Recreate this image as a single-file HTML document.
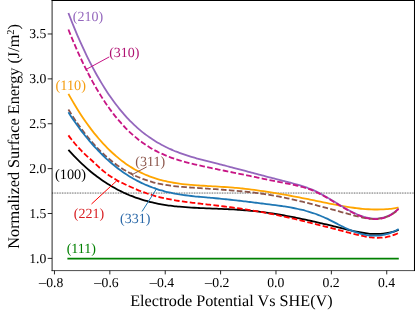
<!DOCTYPE html>
<html><head><meta charset="utf-8"><title>chart</title>
<style>svg{will-change:transform}svg text{text-rendering:geometricPrecision}html,body{margin:0;padding:0;background:#fff;}body{width:415px;height:311px;overflow:hidden;position:relative;font-family:"Liberation Serif",serif;}</style></head>
<body>
<svg width="415" height="311" viewBox="0 0 415 311" style="position:absolute;left:0;top:0">
<rect width="415" height="311" fill="#fff"/>
<path d="M67.4 258.66 H398.8" stroke="#008000" stroke-width="1.6" fill="none"/>
<path d="M52.10 193.05 H414.50" stroke="#333" stroke-width="0.9" stroke-dasharray="0.85 0.8" fill="none"/>
<path d="M68.40 149.92 C68.90 150.47 70.40 152.15 71.40 153.23 C72.40 154.31 73.40 155.36 74.40 156.40 C75.40 157.44 76.40 158.46 77.40 159.45 C78.40 160.45 79.40 161.43 80.40 162.39 C81.40 163.34 82.40 164.28 83.40 165.20 C84.40 166.12 85.40 167.01 86.40 167.89 C87.40 168.77 88.40 169.63 89.40 170.48 C90.40 171.32 91.40 172.14 92.40 172.95 C93.40 173.75 94.40 174.54 95.40 175.31 C96.40 176.08 97.40 176.83 98.40 177.56 C99.40 178.30 100.40 179.01 101.40 179.71 C102.40 180.41 103.40 181.09 104.40 181.76 C105.40 182.42 106.40 183.07 107.40 183.70 C108.40 184.34 109.40 184.95 110.40 185.55 C111.40 186.15 112.40 186.74 113.40 187.31 C114.40 187.88 115.40 188.43 116.40 188.97 C117.40 189.50 118.40 190.03 119.40 190.54 C120.40 191.04 121.40 191.54 122.40 192.02 C123.40 192.50 124.40 192.96 125.40 193.41 C126.40 193.86 127.40 194.30 128.40 194.72 C129.40 195.15 130.40 195.56 131.40 195.95 C132.40 196.35 133.40 196.73 134.40 197.10 C135.40 197.48 136.40 197.83 137.40 198.18 C138.40 198.52 139.40 198.86 140.40 199.18 C141.40 199.50 142.40 199.81 143.40 200.11 C144.40 200.40 145.40 200.69 146.40 200.96 C147.40 201.24 148.40 201.50 149.40 201.76 C150.40 202.01 151.40 202.25 152.40 202.48 C153.40 202.71 154.40 202.94 155.40 203.15 C156.40 203.36 157.40 203.56 158.40 203.76 C159.40 203.95 160.40 204.14 161.40 204.31 C162.40 204.49 163.40 204.66 164.40 204.82 C165.40 204.98 166.40 205.13 167.40 205.27 C168.40 205.42 169.40 205.55 170.40 205.68 C171.40 205.81 172.40 205.94 173.40 206.05 C174.40 206.17 175.40 206.28 176.40 206.38 C177.40 206.49 178.40 206.59 179.40 206.68 C180.40 206.77 181.40 206.86 182.40 206.95 C183.40 207.03 184.40 207.11 185.40 207.18 C186.40 207.26 187.40 207.33 188.40 207.39 C189.40 207.46 190.40 207.52 191.40 207.58 C192.40 207.64 193.40 207.70 194.40 207.75 C195.40 207.81 196.40 207.86 197.40 207.91 C198.40 207.96 199.40 208.00 200.40 208.05 C201.40 208.10 202.40 208.14 203.40 208.18 C204.40 208.23 205.40 208.27 206.40 208.31 C207.40 208.35 208.40 208.39 209.40 208.43 C210.40 208.47 211.40 208.51 212.40 208.54 C213.40 208.58 214.40 208.62 215.40 208.66 C216.40 208.70 217.40 208.74 218.40 208.78 C219.40 208.82 220.40 208.86 221.40 208.90 C222.40 208.94 223.40 208.98 224.40 209.03 C225.40 209.07 226.40 209.12 227.40 209.16 C228.40 209.21 229.40 209.26 230.40 209.31 C231.40 209.36 232.40 209.41 233.40 209.47 C234.40 209.52 235.40 209.58 236.40 209.64 C237.40 209.71 238.40 209.77 239.40 209.84 C240.40 209.90 241.40 209.97 242.40 210.05 C243.40 210.12 244.40 210.20 245.40 210.28 C246.40 210.37 247.40 210.45 248.40 210.54 C249.40 210.63 250.40 210.73 251.40 210.83 C252.40 210.93 253.40 211.03 254.40 211.14 C255.40 211.25 256.40 211.36 257.40 211.48 C258.40 211.59 259.40 211.71 260.40 211.84 C261.40 211.96 262.40 212.09 263.40 212.22 C264.40 212.35 265.40 212.49 266.40 212.63 C267.40 212.77 268.40 212.91 269.40 213.06 C270.40 213.21 271.40 213.36 272.40 213.51 C273.40 213.66 274.40 213.82 275.40 213.98 C276.40 214.14 277.40 214.31 278.40 214.47 C279.40 214.64 280.40 214.81 281.40 214.98 C282.40 215.16 283.40 215.33 284.40 215.51 C285.40 215.69 286.40 215.88 287.40 216.06 C288.40 216.25 289.40 216.44 290.40 216.63 C291.40 216.82 292.40 217.01 293.40 217.21 C294.40 217.40 295.40 217.60 296.40 217.81 C297.40 218.01 298.40 218.21 299.40 218.42 C300.40 218.62 301.40 218.83 302.40 219.04 C303.40 219.26 304.40 219.47 305.40 219.68 C306.40 219.90 307.40 220.12 308.40 220.34 C309.40 220.56 310.40 220.78 311.40 221.00 C312.40 221.23 313.40 221.45 314.40 221.68 C315.40 221.91 316.40 222.14 317.40 222.37 C318.40 222.60 319.40 222.83 320.40 223.06 C321.40 223.30 322.40 223.53 323.40 223.77 C324.40 224.01 325.40 224.24 326.40 224.48 C327.40 224.72 328.40 224.96 329.40 225.21 C330.40 225.45 331.40 225.69 332.40 225.94 C333.40 226.18 334.40 226.43 335.40 226.67 C336.40 226.92 337.40 227.17 338.40 227.41 C339.40 227.66 340.40 227.91 341.40 228.16 C342.40 228.41 343.40 228.66 344.40 228.90 C345.40 229.15 346.40 229.40 347.40 229.64 C348.40 229.88 349.40 230.12 350.40 230.35 C351.40 230.58 352.40 230.80 353.40 231.02 C354.40 231.24 355.40 231.45 356.40 231.65 C357.40 231.85 358.40 232.05 359.40 232.23 C360.40 232.41 361.40 232.58 362.40 232.74 C363.40 232.90 364.40 233.05 365.40 233.18 C366.40 233.31 367.40 233.43 368.40 233.53 C369.40 233.63 370.40 233.71 371.40 233.78 C372.40 233.84 373.40 233.89 374.40 233.92 C375.40 233.95 376.40 233.96 377.40 233.95 C378.40 233.94 379.40 233.91 380.40 233.85 C381.40 233.79 382.40 233.72 383.40 233.61 C384.40 233.51 385.40 233.38 386.40 233.23 C387.40 233.08 388.40 232.90 389.40 232.69 C390.40 232.49 391.40 232.25 392.40 231.99 C393.40 231.73 394.37 231.45 395.40 231.11 C396.43 230.77 398.07 230.16 398.60 229.97" stroke="#000000" stroke-width="1.8" fill="none" stroke-linejoin="round"/>
<path d="M68.40 93.84 C68.90 94.72 70.40 97.42 71.40 99.16 C72.40 100.90 73.40 102.61 74.40 104.28 C75.40 105.95 76.40 107.59 77.40 109.20 C78.40 110.80 79.40 112.38 80.40 113.92 C81.40 115.46 82.40 116.96 83.40 118.44 C84.40 119.91 85.40 121.36 86.40 122.77 C87.40 124.18 88.40 125.56 89.40 126.91 C90.40 128.27 91.40 129.59 92.40 130.88 C93.40 132.17 94.40 133.43 95.40 134.66 C96.40 135.89 97.40 137.09 98.40 138.26 C99.40 139.43 100.40 140.58 101.40 141.69 C102.40 142.81 103.40 143.90 104.40 144.96 C105.40 146.02 106.40 147.05 107.40 148.06 C108.40 149.06 109.40 150.04 110.40 150.99 C111.40 151.95 112.40 152.87 113.40 153.78 C114.40 154.68 115.40 155.55 116.40 156.40 C117.40 157.25 118.40 158.08 119.40 158.88 C120.40 159.68 121.40 160.46 122.40 161.21 C123.40 161.97 124.40 162.70 125.40 163.40 C126.40 164.11 127.40 164.79 128.40 165.46 C129.40 166.12 130.40 166.76 131.40 167.37 C132.40 167.99 133.40 168.59 134.40 169.16 C135.40 169.74 136.40 170.29 137.40 170.83 C138.40 171.36 139.40 171.87 140.40 172.37 C141.40 172.86 142.40 173.34 143.40 173.79 C144.40 174.25 145.40 174.69 146.40 175.11 C147.40 175.53 148.40 175.93 149.40 176.31 C150.40 176.70 151.40 177.07 152.40 177.42 C153.40 177.77 154.40 178.11 155.40 178.43 C156.40 178.75 157.40 179.05 158.40 179.34 C159.40 179.63 160.40 179.91 161.40 180.17 C162.40 180.44 163.40 180.69 164.40 180.92 C165.40 181.16 166.40 181.39 167.40 181.60 C168.40 181.81 169.40 182.01 170.40 182.20 C171.40 182.39 172.40 182.57 173.40 182.74 C174.40 182.91 175.40 183.07 176.40 183.23 C177.40 183.38 178.40 183.52 179.40 183.65 C180.40 183.79 181.40 183.91 182.40 184.03 C183.40 184.15 184.40 184.26 185.40 184.37 C186.40 184.47 187.40 184.57 188.40 184.66 C189.40 184.76 190.40 184.84 191.40 184.93 C192.40 185.01 193.40 185.09 194.40 185.16 C195.40 185.24 196.40 185.31 197.40 185.38 C198.40 185.45 199.40 185.51 200.40 185.58 C201.40 185.64 202.40 185.70 203.40 185.76 C204.40 185.82 205.40 185.88 206.40 185.94 C207.40 186.00 208.40 186.05 209.40 186.11 C210.40 186.17 211.40 186.22 212.40 186.28 C213.40 186.33 214.40 186.39 215.40 186.44 C216.40 186.50 217.40 186.56 218.40 186.62 C219.40 186.67 220.40 186.73 221.40 186.80 C222.40 186.86 223.40 186.92 224.40 186.99 C225.40 187.05 226.40 187.12 227.40 187.19 C228.40 187.26 229.40 187.34 230.40 187.42 C231.40 187.49 232.40 187.57 233.40 187.66 C234.40 187.74 235.40 187.83 236.40 187.93 C237.40 188.02 238.40 188.11 239.40 188.21 C240.40 188.31 241.40 188.42 242.40 188.52 C243.40 188.63 244.40 188.74 245.40 188.85 C246.40 188.96 247.40 189.08 248.40 189.20 C249.40 189.32 250.40 189.44 251.40 189.56 C252.40 189.69 253.40 189.82 254.40 189.95 C255.40 190.08 256.40 190.22 257.40 190.35 C258.40 190.49 259.40 190.63 260.40 190.77 C261.40 190.91 262.40 191.06 263.40 191.21 C264.40 191.35 265.40 191.50 266.40 191.66 C267.40 191.81 268.40 191.97 269.40 192.12 C270.40 192.28 271.40 192.44 272.40 192.60 C273.40 192.77 274.40 192.93 275.40 193.10 C276.40 193.26 277.40 193.43 278.40 193.60 C279.40 193.77 280.40 193.95 281.40 194.12 C282.40 194.30 283.40 194.48 284.40 194.65 C285.40 194.83 286.40 195.01 287.40 195.20 C288.40 195.38 289.40 195.56 290.40 195.75 C291.40 195.93 292.40 196.12 293.40 196.31 C294.40 196.50 295.40 196.69 296.40 196.88 C297.40 197.07 298.40 197.27 299.40 197.46 C300.40 197.65 301.40 197.85 302.40 198.05 C303.40 198.24 304.40 198.44 305.40 198.64 C306.40 198.84 307.40 199.04 308.40 199.24 C309.40 199.44 310.40 199.65 311.40 199.85 C312.40 200.05 313.40 200.26 314.40 200.46 C315.40 200.67 316.40 200.87 317.40 201.08 C318.40 201.28 319.40 201.49 320.40 201.70 C321.40 201.90 322.40 202.11 323.40 202.32 C324.40 202.52 325.40 202.73 326.40 202.93 C327.40 203.14 328.40 203.34 329.40 203.54 C330.40 203.75 331.40 203.95 332.40 204.14 C333.40 204.34 334.40 204.54 335.40 204.73 C336.40 204.92 337.40 205.11 338.40 205.30 C339.40 205.48 340.40 205.67 341.40 205.85 C342.40 206.03 343.40 206.20 344.40 206.37 C345.40 206.54 346.40 206.71 347.40 206.87 C348.40 207.03 349.40 207.18 350.40 207.33 C351.40 207.48 352.40 207.62 353.40 207.76 C354.40 207.90 355.40 208.03 356.40 208.15 C357.40 208.27 358.40 208.39 359.40 208.50 C360.40 208.61 361.40 208.71 362.40 208.80 C363.40 208.90 364.40 208.98 365.40 209.06 C366.40 209.13 367.40 209.20 368.40 209.26 C369.40 209.32 370.40 209.37 371.40 209.41 C372.40 209.44 373.40 209.47 374.40 209.49 C375.40 209.51 376.40 209.52 377.40 209.52 C378.40 209.51 379.40 209.50 380.40 209.47 C381.40 209.45 382.40 209.41 383.40 209.36 C384.40 209.31 385.40 209.25 386.40 209.18 C387.40 209.10 388.40 209.01 389.40 208.91 C390.40 208.81 391.40 208.70 392.40 208.57 C393.40 208.44 394.37 208.30 395.40 208.14 C396.43 207.98 398.07 207.68 398.60 207.59" stroke="#ffa500" stroke-width="1.8" fill="none" stroke-linejoin="round"/>
<path d="M68.40 12.99 C68.90 14.27 70.40 18.18 71.40 20.71 C72.40 23.23 73.40 25.71 74.40 28.14 C75.40 30.57 76.40 32.95 77.40 35.28 C78.40 37.62 79.40 39.90 80.40 42.15 C81.40 44.39 82.40 46.59 83.40 48.74 C84.40 50.89 85.40 53.00 86.40 55.06 C87.40 57.13 88.40 59.15 89.40 61.13 C90.40 63.11 91.40 65.04 92.40 66.94 C93.40 68.84 94.40 70.69 95.40 72.50 C96.40 74.32 97.40 76.09 98.40 77.82 C99.40 79.56 100.40 81.25 101.40 82.91 C102.40 84.56 103.40 86.18 104.40 87.76 C105.40 89.35 106.40 90.89 107.40 92.40 C108.40 93.90 109.40 95.38 110.40 96.81 C111.40 98.25 112.40 99.65 113.40 101.02 C114.40 102.38 115.40 103.72 116.40 105.02 C117.40 106.32 118.40 107.58 119.40 108.82 C120.40 110.06 121.40 111.26 122.40 112.43 C123.40 113.60 124.40 114.74 125.40 115.86 C126.40 116.97 127.40 118.05 128.40 119.10 C129.40 120.15 130.40 121.18 131.40 122.17 C132.40 123.17 133.40 124.14 134.40 125.08 C135.40 126.02 136.40 126.93 137.40 127.82 C138.40 128.71 139.40 129.57 140.40 130.41 C141.40 131.25 142.40 132.06 143.40 132.86 C144.40 133.65 145.40 134.41 146.40 135.15 C147.40 135.90 148.40 136.62 149.40 137.32 C150.40 138.02 151.40 138.70 152.40 139.35 C153.40 140.01 154.40 140.65 155.40 141.26 C156.40 141.88 157.40 142.48 158.40 143.06 C159.40 143.64 160.40 144.20 161.40 144.74 C162.40 145.28 163.40 145.81 164.40 146.32 C165.40 146.83 166.40 147.32 167.40 147.80 C168.40 148.28 169.40 148.74 170.40 149.19 C171.40 149.64 172.40 150.07 173.40 150.49 C174.40 150.91 175.40 151.32 176.40 151.71 C177.40 152.11 178.40 152.49 179.40 152.86 C180.40 153.23 181.40 153.59 182.40 153.94 C183.40 154.29 184.40 154.63 185.40 154.96 C186.40 155.29 187.40 155.61 188.40 155.93 C189.40 156.24 190.40 156.55 191.40 156.85 C192.40 157.14 193.40 157.43 194.40 157.72 C195.40 158.01 196.40 158.28 197.40 158.56 C198.40 158.83 199.40 159.10 200.40 159.37 C201.40 159.63 202.40 159.90 203.40 160.15 C204.40 160.41 205.40 160.67 206.40 160.92 C207.40 161.18 208.40 161.43 209.40 161.68 C210.40 161.93 211.40 162.18 212.40 162.43 C213.40 162.68 214.40 162.93 215.40 163.19 C216.40 163.44 217.40 163.69 218.40 163.94 C219.40 164.20 220.40 164.45 221.40 164.71 C222.40 164.97 223.40 165.22 224.40 165.48 C225.40 165.74 226.40 166.00 227.40 166.25 C228.40 166.51 229.40 166.77 230.40 167.03 C231.40 167.29 232.40 167.55 233.40 167.81 C234.40 168.08 235.40 168.34 236.40 168.60 C237.40 168.86 238.40 169.12 239.40 169.39 C240.40 169.65 241.40 169.91 242.40 170.18 C243.40 170.44 244.40 170.70 245.40 170.97 C246.40 171.23 247.40 171.50 248.40 171.76 C249.40 172.02 250.40 172.29 251.40 172.55 C252.40 172.82 253.40 173.08 254.40 173.35 C255.40 173.61 256.40 173.87 257.40 174.14 C258.40 174.40 259.40 174.67 260.40 174.93 C261.40 175.19 262.40 175.46 263.40 175.72 C264.40 175.98 265.40 176.25 266.40 176.51 C267.40 176.77 268.40 177.03 269.40 177.29 C270.40 177.55 271.40 177.82 272.40 178.08 C273.40 178.34 274.40 178.60 275.40 178.86 C276.40 179.11 277.40 179.37 278.40 179.63 C279.40 179.89 280.40 180.15 281.40 180.40 C282.40 180.66 283.40 180.91 284.40 181.17 C285.40 181.42 286.40 181.68 287.40 181.93 C288.40 182.19 289.40 182.45 290.40 182.71 C291.40 182.97 292.40 183.23 293.40 183.50 C294.40 183.77 295.40 184.05 296.40 184.33 C297.40 184.62 298.40 184.91 299.40 185.21 C300.40 185.51 301.40 185.82 302.40 186.14 C303.40 186.46 304.40 186.79 305.40 187.14 C306.40 187.49 307.40 187.84 308.40 188.22 C309.40 188.60 310.40 188.99 311.40 189.39 C312.40 189.80 313.40 190.23 314.40 190.67 C315.40 191.12 316.40 191.58 317.40 192.07 C318.40 192.56 319.40 193.07 320.40 193.59 C321.40 194.11 322.40 194.66 323.40 195.21 C324.40 195.77 325.40 196.34 326.40 196.92 C327.40 197.50 328.40 198.10 329.40 198.70 C330.40 199.29 331.40 199.90 332.40 200.51 C333.40 201.12 334.40 201.73 335.40 202.35 C336.40 202.96 337.40 203.58 338.40 204.18 C339.40 204.79 340.40 205.40 341.40 206.00 C342.40 206.60 343.40 207.20 344.40 207.78 C345.40 208.36 346.40 208.93 347.40 209.49 C348.40 210.05 349.40 210.59 350.40 211.12 C351.40 211.64 352.40 212.16 353.40 212.64 C354.40 213.13 355.40 213.60 356.40 214.04 C357.40 214.49 358.40 214.91 359.40 215.30 C360.40 215.69 361.40 216.05 362.40 216.38 C363.40 216.71 364.40 217.02 365.40 217.28 C366.40 217.55 367.40 217.78 368.40 217.97 C369.40 218.16 370.40 218.32 371.40 218.43 C372.40 218.54 373.40 218.61 374.40 218.64 C375.40 218.66 376.40 218.64 377.40 218.57 C378.40 218.50 379.40 218.39 380.40 218.22 C381.40 218.05 382.40 217.83 383.40 217.55 C384.40 217.27 385.40 216.94 386.40 216.55 C387.40 216.15 388.40 215.71 389.40 215.19 C390.40 214.68 391.40 214.11 392.40 213.47 C393.40 212.83 394.37 212.16 395.40 211.35 C396.43 210.55 398.07 209.09 398.60 208.64" stroke="#9467bd" stroke-width="1.8" fill="none" stroke-linejoin="round"/>
<path d="M68.40 135.38 C68.90 136.03 70.40 138.01 71.40 139.28 C72.40 140.54 73.40 141.78 74.40 142.97 C75.40 144.17 76.40 145.33 77.40 146.46 C78.40 147.59 79.40 148.68 80.40 149.73 C81.40 150.79 82.40 151.81 83.40 152.79 C84.40 153.77 85.40 154.70 86.40 155.62 C87.40 156.54 88.40 157.41 89.40 158.31 C90.40 159.20 91.40 160.09 92.40 161.01 C93.40 161.93 94.40 162.89 95.40 163.83 C96.40 164.77 97.40 165.74 98.40 166.66 C99.40 167.59 100.40 168.52 101.40 169.39 C102.40 170.26 103.40 171.10 104.40 171.90 C105.40 172.70 106.40 173.45 107.40 174.18 C108.40 174.91 109.40 175.60 110.40 176.26 C111.40 176.93 112.40 177.56 113.40 178.17 C114.40 178.78 115.40 179.36 116.40 179.92 C117.40 180.48 118.40 181.02 119.40 181.54 C120.40 182.06 121.40 182.57 122.40 183.06 C123.40 183.55 124.40 184.03 125.40 184.50 C126.40 184.97 127.40 185.42 128.40 185.88 C129.40 186.33 130.40 186.78 131.40 187.22 C132.40 187.67 133.40 188.11 134.40 188.54 C135.40 188.97 136.40 189.39 137.40 189.80 C138.40 190.22 139.40 190.63 140.40 191.02 C141.40 191.42 142.40 191.80 143.40 192.17 C144.40 192.55 145.40 192.91 146.40 193.26 C147.40 193.60 148.40 193.94 149.40 194.26 C150.40 194.59 151.40 194.90 152.40 195.19 C153.40 195.49 154.40 195.78 155.40 196.06 C156.40 196.33 157.40 196.60 158.40 196.86 C159.40 197.11 160.40 197.36 161.40 197.59 C162.40 197.83 163.40 198.06 164.40 198.28 C165.40 198.50 166.40 198.70 167.40 198.91 C168.40 199.11 169.40 199.30 170.40 199.49 C171.40 199.68 172.40 199.86 173.40 200.03 C174.40 200.20 175.40 200.37 176.40 200.53 C177.40 200.69 178.40 200.85 179.40 201.00 C180.40 201.15 181.40 201.29 182.40 201.44 C183.40 201.58 184.40 201.71 185.40 201.85 C186.40 201.98 187.40 202.11 188.40 202.24 C189.40 202.36 190.40 202.49 191.40 202.61 C192.40 202.73 193.40 202.85 194.40 202.97 C195.40 203.09 196.40 203.21 197.40 203.32 C198.40 203.44 199.40 203.55 200.40 203.67 C201.40 203.79 202.40 203.90 203.40 204.02 C204.40 204.13 205.40 204.25 206.40 204.36 C207.40 204.48 208.40 204.59 209.40 204.71 C210.40 204.82 211.40 204.94 212.40 205.05 C213.40 205.17 214.40 205.29 215.40 205.40 C216.40 205.52 217.40 205.64 218.40 205.76 C219.40 205.88 220.40 206.00 221.40 206.12 C222.40 206.24 223.40 206.36 224.40 206.49 C225.40 206.61 226.40 206.74 227.40 206.86 C228.40 206.99 229.40 207.12 230.40 207.25 C231.40 207.38 232.40 207.51 233.40 207.64 C234.40 207.78 235.40 207.91 236.40 208.05 C237.40 208.19 238.40 208.33 239.40 208.47 C240.40 208.61 241.40 208.76 242.40 208.90 C243.40 209.05 244.40 209.20 245.40 209.36 C246.40 209.51 247.40 209.66 248.40 209.82 C249.40 209.98 250.40 210.14 251.40 210.31 C252.40 210.47 253.40 210.64 254.40 210.81 C255.40 210.98 256.40 211.16 257.40 211.33 C258.40 211.51 259.40 211.69 260.40 211.87 C261.40 212.05 262.40 212.23 263.40 212.42 C264.40 212.61 265.40 212.80 266.40 212.99 C267.40 213.18 268.40 213.38 269.40 213.57 C270.40 213.77 271.40 213.97 272.40 214.17 C273.40 214.37 274.40 214.58 275.40 214.78 C276.40 214.99 277.40 215.20 278.40 215.41 C279.40 215.62 280.40 215.83 281.40 216.05 C282.40 216.26 283.40 216.48 284.40 216.70 C285.40 216.92 286.40 217.14 287.40 217.36 C288.40 217.58 289.40 217.81 290.40 218.03 C291.40 218.26 292.40 218.49 293.40 218.72 C294.40 218.95 295.40 219.18 296.40 219.41 C297.40 219.65 298.40 219.88 299.40 220.12 C300.40 220.35 301.40 220.59 302.40 220.83 C303.40 221.07 304.40 221.31 305.40 221.55 C306.40 221.79 307.40 222.04 308.40 222.28 C309.40 222.53 310.40 222.77 311.40 223.02 C312.40 223.27 313.40 223.52 314.40 223.77 C315.40 224.01 316.40 224.27 317.40 224.52 C318.40 224.77 319.40 225.02 320.40 225.27 C321.40 225.53 322.40 225.78 323.40 226.04 C324.40 226.29 325.40 226.55 326.40 226.81 C327.40 227.06 328.40 227.32 329.40 227.58 C330.40 227.84 331.40 228.09 332.40 228.35 C333.40 228.61 334.40 228.87 335.40 229.13 C336.40 229.39 337.40 229.65 338.40 229.92 C339.40 230.18 340.40 230.44 341.40 230.70 C342.40 230.96 343.40 231.23 344.40 231.49 C345.40 231.75 346.40 232.01 347.40 232.28 C348.40 232.54 349.40 232.80 350.40 233.06 C351.40 233.33 352.40 233.59 353.40 233.85 C354.40 234.10 355.40 234.36 356.40 234.60 C357.40 234.85 358.40 235.09 359.40 235.32 C360.40 235.55 361.40 235.77 362.40 235.98 C363.40 236.19 364.40 236.38 365.40 236.56 C366.40 236.74 367.40 236.91 368.40 237.05 C369.40 237.19 370.40 237.32 371.40 237.43 C372.40 237.53 373.40 237.62 374.40 237.68 C375.40 237.73 376.40 237.77 377.40 237.78 C378.40 237.79 379.40 237.77 380.40 237.72 C381.40 237.67 382.40 237.59 383.40 237.47 C384.40 237.36 385.40 237.22 386.40 237.03 C387.40 236.85 388.40 236.63 389.40 236.38 C390.40 236.12 391.40 235.82 392.40 235.48 C393.40 235.14 394.37 234.78 395.40 234.34 C396.43 233.90 398.07 233.08 398.60 232.82" stroke="#ff0000" stroke-width="1.8" fill="none" stroke-dasharray="5.6 2.35" stroke-linejoin="round"/>
<path d="M68.40 109.49 C68.90 110.29 70.40 112.73 71.40 114.30 C72.40 115.87 73.40 117.41 74.40 118.91 C75.40 120.41 76.40 121.88 77.40 123.32 C78.40 124.76 79.40 126.16 80.40 127.54 C81.40 128.91 82.40 130.26 83.40 131.57 C84.40 132.88 85.40 134.16 86.40 135.41 C87.40 136.66 88.40 137.88 89.40 139.08 C90.40 140.27 91.40 141.43 92.40 142.56 C93.40 143.70 94.40 144.80 95.40 145.88 C96.40 146.96 97.40 148.01 98.40 149.03 C99.40 150.05 100.40 151.05 101.40 152.02 C102.40 152.99 103.40 153.93 104.40 154.85 C105.40 155.76 106.40 156.65 107.40 157.52 C108.40 158.39 109.40 159.23 110.40 160.04 C111.40 160.86 112.40 161.65 113.40 162.42 C114.40 163.19 115.40 163.94 116.40 164.66 C117.40 165.38 118.40 166.08 119.40 166.76 C120.40 167.43 121.40 168.09 122.40 168.72 C123.40 169.36 124.40 169.97 125.40 170.56 C126.40 171.15 127.40 171.72 128.40 172.28 C129.40 172.83 130.40 173.36 131.40 173.87 C132.40 174.38 133.40 174.87 134.40 175.35 C135.40 175.82 136.40 176.28 137.40 176.72 C138.40 177.16 139.40 177.57 140.40 177.98 C141.40 178.38 142.40 178.77 143.40 179.14 C144.40 179.51 145.40 179.86 146.40 180.20 C147.40 180.53 148.40 180.85 149.40 181.16 C150.40 181.47 151.40 181.76 152.40 182.04 C153.40 182.32 154.40 182.58 155.40 182.83 C156.40 183.08 157.40 183.31 158.40 183.54 C159.40 183.76 160.40 183.97 161.40 184.17 C162.40 184.37 163.40 184.56 164.40 184.73 C165.40 184.91 166.40 185.07 167.40 185.23 C168.40 185.38 169.40 185.53 170.40 185.66 C171.40 185.80 172.40 185.92 173.40 186.04 C174.40 186.16 175.40 186.27 176.40 186.38 C177.40 186.48 178.40 186.58 179.40 186.67 C180.40 186.76 181.40 186.85 182.40 186.93 C183.40 187.01 184.40 187.09 185.40 187.17 C186.40 187.24 187.40 187.31 188.40 187.38 C189.40 187.45 190.40 187.51 191.40 187.58 C192.40 187.64 193.40 187.71 194.40 187.77 C195.40 187.83 196.40 187.90 197.40 187.96 C198.40 188.03 199.40 188.09 200.40 188.16 C201.40 188.22 202.40 188.29 203.40 188.36 C204.40 188.43 205.40 188.50 206.40 188.57 C207.40 188.64 208.40 188.71 209.40 188.78 C210.40 188.85 211.40 188.92 212.40 188.99 C213.40 189.07 214.40 189.14 215.40 189.21 C216.40 189.28 217.40 189.35 218.40 189.43 C219.40 189.50 220.40 189.57 221.40 189.65 C222.40 189.72 223.40 189.80 224.40 189.87 C225.40 189.95 226.40 190.02 227.40 190.10 C228.40 190.18 229.40 190.26 230.40 190.34 C231.40 190.42 232.40 190.50 233.40 190.58 C234.40 190.67 235.40 190.75 236.40 190.84 C237.40 190.93 238.40 191.02 239.40 191.11 C240.40 191.20 241.40 191.30 242.40 191.39 C243.40 191.49 244.40 191.59 245.40 191.69 C246.40 191.79 247.40 191.90 248.40 192.01 C249.40 192.12 250.40 192.23 251.40 192.34 C252.40 192.46 253.40 192.58 254.40 192.70 C255.40 192.82 256.40 192.94 257.40 193.07 C258.40 193.20 259.40 193.34 260.40 193.48 C261.40 193.61 262.40 193.76 263.40 193.90 C264.40 194.05 265.40 194.20 266.40 194.35 C267.40 194.51 268.40 194.67 269.40 194.84 C270.40 195.00 271.40 195.17 272.40 195.35 C273.40 195.52 274.40 195.70 275.40 195.88 C276.40 196.06 277.40 196.25 278.40 196.44 C279.40 196.63 280.40 196.83 281.40 197.03 C282.40 197.23 283.40 197.43 284.40 197.64 C285.40 197.84 286.40 198.06 287.40 198.27 C288.40 198.48 289.40 198.70 290.40 198.92 C291.40 199.14 292.40 199.37 293.40 199.59 C294.40 199.82 295.40 200.05 296.40 200.28 C297.40 200.51 298.40 200.75 299.40 200.99 C300.40 201.23 301.40 201.47 302.40 201.71 C303.40 201.95 304.40 202.20 305.40 202.45 C306.40 202.70 307.40 202.95 308.40 203.20 C309.40 203.45 310.40 203.71 311.40 203.96 C312.40 204.22 313.40 204.48 314.40 204.74 C315.40 205.00 316.40 205.26 317.40 205.52 C318.40 205.78 319.40 206.05 320.40 206.32 C321.40 206.58 322.40 206.85 323.40 207.12 C324.40 207.38 325.40 207.65 326.40 207.92 C327.40 208.19 328.40 208.46 329.40 208.74 C330.40 209.01 331.40 209.28 332.40 209.55 C333.40 209.82 334.40 210.10 335.40 210.37 C336.40 210.64 337.40 210.92 338.40 211.19 C339.40 211.47 340.40 211.74 341.40 212.01 C342.40 212.29 343.40 212.56 344.40 212.83 C345.40 213.11 346.40 213.38 347.40 213.65 C348.40 213.92 349.40 214.20 350.40 214.47 C351.40 214.74 352.40 215.01 353.40 215.28 C354.40 215.55 355.40 215.82 356.40 216.07 C357.40 216.33 358.40 216.59 359.40 216.83 C360.40 217.07 361.40 217.30 362.40 217.51 C363.40 217.72 364.40 217.92 365.40 218.10 C366.40 218.27 367.40 218.43 368.40 218.55 C369.40 218.67 370.40 218.78 371.40 218.84 C372.40 218.91 373.40 218.95 374.40 218.95 C375.40 218.95 376.40 218.92 377.40 218.84 C378.40 218.76 379.40 218.65 380.40 218.48 C381.40 218.31 382.40 218.11 383.40 217.84 C384.40 217.58 385.40 217.27 386.40 216.90 C387.40 216.53 388.40 216.11 389.40 215.63 C390.40 215.14 391.40 214.60 392.40 213.98 C393.40 213.37 394.37 212.73 395.40 211.95 C396.43 211.17 398.07 209.75 398.60 209.31" stroke="#8c564b" stroke-width="1.8" fill="none" stroke-dasharray="5.6 2.35" stroke-linejoin="round"/>
<path d="M68.40 29.52 C68.90 30.76 70.40 34.51 71.40 36.94 C72.40 39.36 73.40 41.74 74.40 44.07 C75.40 46.40 76.40 48.69 77.40 50.93 C78.40 53.18 79.40 55.37 80.40 57.53 C81.40 59.68 82.40 61.79 83.40 63.86 C84.40 65.92 85.40 67.95 86.40 69.93 C87.40 71.91 88.40 73.85 89.40 75.75 C90.40 77.65 91.40 79.51 92.40 81.32 C93.40 83.14 94.40 84.92 95.40 86.65 C96.40 88.39 97.40 90.09 98.40 91.75 C99.40 93.40 100.40 95.02 101.40 96.61 C102.40 98.19 103.40 99.73 104.40 101.24 C105.40 102.75 106.40 104.22 107.40 105.66 C108.40 107.09 109.40 108.49 110.40 109.85 C111.40 111.22 112.40 112.54 113.40 113.84 C114.40 115.13 115.40 116.39 116.40 117.62 C117.40 118.85 118.40 120.04 119.40 121.20 C120.40 122.36 121.40 123.49 122.40 124.59 C123.40 125.68 124.40 126.75 125.40 127.78 C126.40 128.81 127.40 129.82 128.40 130.79 C129.40 131.76 130.40 132.71 131.40 133.62 C132.40 134.54 133.40 135.42 134.40 136.28 C135.40 137.14 136.40 137.97 137.40 138.77 C138.40 139.58 139.40 140.35 140.40 141.11 C141.40 141.86 142.40 142.59 143.40 143.29 C144.40 143.99 145.40 144.67 146.40 145.33 C147.40 145.99 148.40 146.62 149.40 147.23 C150.40 147.84 151.40 148.43 152.40 149.00 C153.40 149.58 154.40 150.12 155.40 150.66 C156.40 151.19 157.40 151.70 158.40 152.19 C159.40 152.69 160.40 153.16 161.40 153.62 C162.40 154.08 163.40 154.52 164.40 154.95 C165.40 155.37 166.40 155.78 167.40 156.18 C168.40 156.58 169.40 156.96 170.40 157.33 C171.40 157.70 172.40 158.05 173.40 158.40 C174.40 158.74 175.40 159.07 176.40 159.39 C177.40 159.71 178.40 160.02 179.40 160.33 C180.40 160.63 181.40 160.92 182.40 161.20 C183.40 161.48 184.40 161.76 185.40 162.02 C186.40 162.29 187.40 162.55 188.40 162.81 C189.40 163.06 190.40 163.31 191.40 163.55 C192.40 163.79 193.40 164.03 194.40 164.27 C195.40 164.50 196.40 164.73 197.40 164.96 C198.40 165.19 199.40 165.42 200.40 165.64 C201.40 165.87 202.40 166.09 203.40 166.31 C204.40 166.53 205.40 166.75 206.40 166.97 C207.40 167.19 208.40 167.41 209.40 167.62 C210.40 167.83 211.40 168.05 212.40 168.26 C213.40 168.47 214.40 168.68 215.40 168.89 C216.40 169.10 217.40 169.31 218.40 169.52 C219.40 169.73 220.40 169.93 221.40 170.14 C222.40 170.34 223.40 170.55 224.40 170.75 C225.40 170.96 226.40 171.16 227.40 171.36 C228.40 171.57 229.40 171.77 230.40 171.97 C231.40 172.18 232.40 172.38 233.40 172.58 C234.40 172.79 235.40 172.99 236.40 173.19 C237.40 173.39 238.40 173.60 239.40 173.80 C240.40 174.00 241.40 174.21 242.40 174.41 C243.40 174.61 244.40 174.82 245.40 175.02 C246.40 175.23 247.40 175.43 248.40 175.64 C249.40 175.85 250.40 176.05 251.40 176.26 C252.40 176.47 253.40 176.68 254.40 176.89 C255.40 177.10 256.40 177.31 257.40 177.52 C258.40 177.72 259.40 177.93 260.40 178.14 C261.40 178.35 262.40 178.56 263.40 178.77 C264.40 178.98 265.40 179.19 266.40 179.40 C267.40 179.61 268.40 179.82 269.40 180.02 C270.40 180.23 271.40 180.44 272.40 180.64 C273.40 180.85 274.40 181.05 275.40 181.25 C276.40 181.46 277.40 181.66 278.40 181.86 C279.40 182.06 280.40 182.26 281.40 182.46 C282.40 182.66 283.40 182.85 284.40 183.05 C285.40 183.24 286.40 183.44 287.40 183.63 C288.40 183.83 289.40 184.02 290.40 184.22 C291.40 184.42 292.40 184.63 293.40 184.84 C294.40 185.05 295.40 185.27 296.40 185.50 C297.40 185.73 298.40 185.96 299.40 186.21 C300.40 186.46 301.40 186.72 302.40 187.00 C303.40 187.28 304.40 187.57 305.40 187.88 C306.40 188.19 307.40 188.51 308.40 188.86 C309.40 189.20 310.40 189.57 311.40 189.96 C312.40 190.35 313.40 190.76 314.40 191.20 C315.40 191.63 316.40 192.10 317.40 192.58 C318.40 193.06 319.40 193.56 320.40 194.08 C321.40 194.60 322.40 195.14 323.40 195.69 C324.40 196.24 325.40 196.81 326.40 197.38 C327.40 197.96 328.40 198.55 329.40 199.14 C330.40 199.73 331.40 200.33 332.40 200.94 C333.40 201.54 334.40 202.15 335.40 202.76 C336.40 203.37 337.40 203.98 338.40 204.59 C339.40 205.19 340.40 205.80 341.40 206.39 C342.40 206.99 343.40 207.58 344.40 208.16 C345.40 208.74 346.40 209.32 347.40 209.87 C348.40 210.43 349.40 210.98 350.40 211.50 C351.40 212.03 352.40 212.55 353.40 213.03 C354.40 213.52 355.40 214.00 356.40 214.44 C357.40 214.89 358.40 215.31 359.40 215.70 C360.40 216.10 361.40 216.47 362.40 216.80 C363.40 217.13 364.40 217.44 365.40 217.71 C366.40 217.98 367.40 218.22 368.40 218.41 C369.40 218.61 370.40 218.77 371.40 218.88 C372.40 219.00 373.40 219.07 374.40 219.10 C375.40 219.13 376.40 219.11 377.40 219.05 C378.40 218.98 379.40 218.87 380.40 218.70 C381.40 218.53 382.40 218.31 383.40 218.04 C384.40 217.76 385.40 217.43 386.40 217.04 C387.40 216.64 388.40 216.19 389.40 215.68 C390.40 215.16 391.40 214.58 392.40 213.94 C393.40 213.29 394.37 212.61 395.40 211.80 C396.43 210.98 398.07 209.50 398.60 209.05" stroke="#c71585" stroke-width="1.8" fill="none" stroke-dasharray="5.6 2.35" stroke-linejoin="round"/>
<path d="M68.40 112.37 C68.90 113.12 70.40 115.43 71.40 116.92 C72.40 118.41 73.40 119.87 74.40 121.31 C75.40 122.74 76.40 124.15 77.40 125.54 C78.40 126.92 79.40 128.28 80.40 129.61 C81.40 130.94 82.40 132.24 83.40 133.52 C84.40 134.80 85.40 136.06 86.40 137.29 C87.40 138.52 88.40 139.72 89.40 140.90 C90.40 142.08 91.40 143.24 92.40 144.37 C93.40 145.50 94.40 146.61 95.40 147.70 C96.40 148.78 97.40 149.84 98.40 150.88 C99.40 151.92 100.40 152.94 101.40 153.93 C102.40 154.92 103.40 155.90 104.40 156.84 C105.40 157.79 106.40 158.72 107.40 159.63 C108.40 160.53 109.40 161.42 110.40 162.28 C111.40 163.14 112.40 163.98 113.40 164.81 C114.40 165.63 115.40 166.43 116.40 167.21 C117.40 167.99 118.40 168.75 119.40 169.49 C120.40 170.23 121.40 170.95 122.40 171.66 C123.40 172.36 124.40 173.04 125.40 173.71 C126.40 174.37 127.40 175.02 128.40 175.65 C129.40 176.28 130.40 176.89 131.40 177.48 C132.40 178.07 133.40 178.65 134.40 179.20 C135.40 179.76 136.40 180.30 137.40 180.83 C138.40 181.35 139.40 181.86 140.40 182.35 C141.40 182.84 142.40 183.31 143.40 183.77 C144.40 184.23 145.40 184.67 146.40 185.10 C147.40 185.53 148.40 185.94 149.40 186.34 C150.40 186.74 151.40 187.12 152.40 187.49 C153.40 187.86 154.40 188.21 155.40 188.55 C156.40 188.89 157.40 189.22 158.40 189.53 C159.40 189.85 160.40 190.14 161.40 190.43 C162.40 190.72 163.40 190.99 164.40 191.26 C165.40 191.52 166.40 191.77 167.40 192.01 C168.40 192.24 169.40 192.47 170.40 192.69 C171.40 192.91 172.40 193.11 173.40 193.31 C174.40 193.51 175.40 193.69 176.40 193.87 C177.40 194.05 178.40 194.22 179.40 194.38 C180.40 194.54 181.40 194.69 182.40 194.84 C183.40 194.99 184.40 195.13 185.40 195.26 C186.40 195.39 187.40 195.52 188.40 195.64 C189.40 195.76 190.40 195.88 191.40 195.99 C192.40 196.10 193.40 196.21 194.40 196.31 C195.40 196.42 196.40 196.52 197.40 196.61 C198.40 196.71 199.40 196.80 200.40 196.90 C201.40 196.99 202.40 197.08 203.40 197.17 C204.40 197.25 205.40 197.34 206.40 197.43 C207.40 197.52 208.40 197.60 209.40 197.69 C210.40 197.78 211.40 197.86 212.40 197.95 C213.40 198.04 214.40 198.13 215.40 198.23 C216.40 198.32 217.40 198.41 218.40 198.51 C219.40 198.61 220.40 198.70 221.40 198.80 C222.40 198.90 223.40 199.00 224.40 199.11 C225.40 199.21 226.40 199.32 227.40 199.42 C228.40 199.53 229.40 199.64 230.40 199.74 C231.40 199.85 232.40 199.96 233.40 200.08 C234.40 200.19 235.40 200.30 236.40 200.41 C237.40 200.53 238.40 200.64 239.40 200.76 C240.40 200.88 241.40 200.99 242.40 201.11 C243.40 201.23 244.40 201.35 245.40 201.47 C246.40 201.59 247.40 201.71 248.40 201.83 C249.40 201.95 250.40 202.07 251.40 202.19 C252.40 202.32 253.40 202.44 254.40 202.56 C255.40 202.68 256.40 202.81 257.40 202.93 C258.40 203.06 259.40 203.18 260.40 203.30 C261.40 203.43 262.40 203.55 263.40 203.68 C264.40 203.80 265.40 203.93 266.40 204.05 C267.40 204.18 268.40 204.30 269.40 204.42 C270.40 204.55 271.40 204.67 272.40 204.80 C273.40 204.93 274.40 205.06 275.40 205.19 C276.40 205.32 277.40 205.45 278.40 205.59 C279.40 205.73 280.40 205.87 281.40 206.01 C282.40 206.16 283.40 206.30 284.40 206.46 C285.40 206.61 286.40 206.77 287.40 206.94 C288.40 207.10 289.40 207.27 290.40 207.45 C291.40 207.63 292.40 207.81 293.40 208.00 C294.40 208.20 295.40 208.40 296.40 208.61 C297.40 208.82 298.40 209.03 299.40 209.26 C300.40 209.49 301.40 209.73 302.40 209.98 C303.40 210.22 304.40 210.48 305.40 210.75 C306.40 211.02 307.40 211.30 308.40 211.60 C309.40 211.89 310.40 212.20 311.40 212.52 C312.40 212.84 313.40 213.17 314.40 213.51 C315.40 213.86 316.40 214.22 317.40 214.60 C318.40 214.97 319.40 215.37 320.40 215.77 C321.40 216.18 322.40 216.60 323.40 217.04 C324.40 217.48 325.40 217.94 326.40 218.41 C327.40 218.88 328.40 219.37 329.40 219.86 C330.40 220.35 331.40 220.86 332.40 221.36 C333.40 221.87 334.40 222.39 335.40 222.90 C336.40 223.41 337.40 223.93 338.40 224.44 C339.40 224.95 340.40 225.46 341.40 225.96 C342.40 226.46 343.40 226.96 344.40 227.44 C345.40 227.92 346.40 228.39 347.40 228.84 C348.40 229.30 349.40 229.74 350.40 230.15 C351.40 230.57 352.40 230.97 353.40 231.35 C354.40 231.73 355.40 232.08 356.40 232.42 C357.40 232.75 358.40 233.07 359.40 233.36 C360.40 233.64 361.40 233.91 362.40 234.15 C363.40 234.39 364.40 234.60 365.40 234.79 C366.40 234.98 367.40 235.14 368.40 235.27 C369.40 235.40 370.40 235.51 371.40 235.58 C372.40 235.65 373.40 235.70 374.40 235.71 C375.40 235.72 376.40 235.70 377.40 235.64 C378.40 235.59 379.40 235.50 380.40 235.38 C381.40 235.26 382.40 235.10 383.40 234.91 C384.40 234.72 385.40 234.49 386.40 234.22 C387.40 233.96 388.40 233.65 389.40 233.31 C390.40 232.96 391.40 232.58 392.40 232.16 C393.40 231.73 394.37 231.29 395.40 230.76 C396.43 230.23 398.07 229.28 398.60 228.98" stroke="#1f77b4" stroke-width="1.8" fill="none" stroke-linejoin="round"/>
<path d="M109.25 56.90 L86.40 69.30 M87.54 71.41 L85.26 67.19" stroke="#c71585" stroke-width="1.0" fill="none"/>
<path d="M146.70 166.90 L132.30 174.50 M133.42 176.62 L131.18 172.38" stroke="#8c564b" stroke-width="1.0" fill="none"/>
<path d="M91.50 204.00 L116.80 180.70 M115.17 178.93 L118.43 182.47" stroke="#ff0000" stroke-width="1.0" fill="none"/>
<path d="M142.00 211.50 L156.50 188.80 M154.48 187.51 L158.52 190.09" stroke="#1f77b4" stroke-width="1.0" fill="none"/>
<path d="M52.10 0 V271.10" fill="none" stroke="#000" stroke-width="1" stroke-opacity="0.85"/>
<path d="M51.60 270.60 H415" fill="none" stroke="#000" stroke-width="1" stroke-opacity="0.7"/>
<path d="M51.60 0.50 H415 M414.50 0 V271.10" fill="none" stroke="#000" stroke-width="1.07"/>
<path d="M54.46 270.60 V274.40" stroke="#000" stroke-width="0.85"/>
<path d="M109.84 270.60 V274.40" stroke="#000" stroke-width="0.85"/>
<path d="M165.22 270.60 V274.40" stroke="#000" stroke-width="0.85"/>
<path d="M220.60 270.60 V274.40" stroke="#000" stroke-width="0.85"/>
<path d="M275.98 270.60 V274.40" stroke="#000" stroke-width="0.85"/>
<path d="M331.36 270.60 V274.40" stroke="#000" stroke-width="0.85"/>
<path d="M386.74 270.60 V274.40" stroke="#000" stroke-width="0.85"/>
<path d="M52.10 258.40 H47.70" stroke="#000" stroke-width="0.85"/>
<path d="M52.10 213.51 H47.70" stroke="#000" stroke-width="0.85"/>
<path d="M52.10 168.63 H47.70" stroke="#000" stroke-width="0.85"/>
<path d="M52.10 123.74 H47.70" stroke="#000" stroke-width="0.85"/>
<path d="M52.10 78.86 H47.70" stroke="#000" stroke-width="0.85"/>
<path d="M52.10 33.97 H47.70" stroke="#000" stroke-width="0.85"/>
<text x="47.06" y="288" text-anchor="end" font-size="13.7" textLength="9.1" lengthAdjust="spacingAndGlyphs" font-family='"Liberation Serif", serif'>−</text>
<text x="54.76" y="287" text-anchor="middle" font-size="13.7" font-family='"Liberation Serif", serif'>0.8</text>
<text x="102.44" y="288" text-anchor="end" font-size="13.7" textLength="9.1" lengthAdjust="spacingAndGlyphs" font-family='"Liberation Serif", serif'>−</text>
<text x="110.14" y="287" text-anchor="middle" font-size="13.7" font-family='"Liberation Serif", serif'>0.6</text>
<text x="157.82" y="288" text-anchor="end" font-size="13.7" textLength="9.1" lengthAdjust="spacingAndGlyphs" font-family='"Liberation Serif", serif'>−</text>
<text x="165.52" y="287" text-anchor="middle" font-size="13.7" font-family='"Liberation Serif", serif'>0.4</text>
<text x="213.20" y="288" text-anchor="end" font-size="13.7" textLength="9.1" lengthAdjust="spacingAndGlyphs" font-family='"Liberation Serif", serif'>−</text>
<text x="220.90" y="287" text-anchor="middle" font-size="13.7" font-family='"Liberation Serif", serif'>0.2</text>
<text x="275.78" y="287" text-anchor="middle" font-size="13.7" font-family='"Liberation Serif", serif'>0.0</text>
<text x="331.16" y="287" text-anchor="middle" font-size="13.7" font-family='"Liberation Serif", serif'>0.2</text>
<text x="386.54" y="287" text-anchor="middle" font-size="13.7" font-family='"Liberation Serif", serif'>0.4</text>
<text x="46.3" y="262.90" text-anchor="end" font-size="13.7" font-family='"Liberation Serif", serif'>1.0</text>
<text x="46.3" y="218.01" text-anchor="end" font-size="13.7" font-family='"Liberation Serif", serif'>1.5</text>
<text x="46.3" y="173.13" text-anchor="end" font-size="13.7" font-family='"Liberation Serif", serif'>2.0</text>
<text x="46.3" y="128.24" text-anchor="end" font-size="13.7" font-family='"Liberation Serif", serif'>2.5</text>
<text x="46.3" y="83.36" text-anchor="end" font-size="13.7" font-family='"Liberation Serif", serif'>3.0</text>
<text x="46.3" y="38.47" text-anchor="end" font-size="13.7" font-family='"Liberation Serif", serif'>3.5</text>
<text x="231.4" y="305.8" text-anchor="middle" font-size="16.2" font-family='"Liberation Serif", serif'>Electrode Potential Vs SHE(V)</text>
<text transform="translate(18.9 248.7) rotate(-90)" text-anchor="start" font-size="16.25" font-family='"Liberation Serif", serif'>Normalized Surface Energy (J/m<tspan font-size="10.5" dy="-4.6">2</tspan><tspan dy="4.6">)</tspan></text>
<text x="87.90" y="20.60" text-anchor="middle" font-size="14" fill="#9467bd" font-family='"Liberation Serif", serif'>(210)</text>
<text x="124.30" y="57.00" text-anchor="middle" font-size="14" fill="#b01272" font-family='"Liberation Serif", serif'>(310)</text>
<text x="70.75" y="89.60" text-anchor="middle" font-size="14.3" fill="#f59e12" font-family='"Liberation Serif", serif'>(110)</text>
<text x="70.50" y="178.50" text-anchor="middle" font-size="14.3" fill="#000" font-family='"Liberation Serif", serif'>(100)</text>
<text x="88.90" y="218.30" text-anchor="middle" font-size="14" fill="#d81c20" font-family='"Liberation Serif", serif'>(221)</text>
<text x="135.20" y="222.50" text-anchor="middle" font-size="14" fill="#2a68a8" font-family='"Liberation Serif", serif'>(331)</text>
<text x="81.30" y="252.60" text-anchor="middle" font-size="14" fill="#008000" font-family='"Liberation Serif", serif'>(111)</text>
<text x="150.20" y="165.95" text-anchor="middle" font-size="14" fill="#8c564b" font-family='"Liberation Serif", serif'>(311)</text>
</svg>
</body></html>
